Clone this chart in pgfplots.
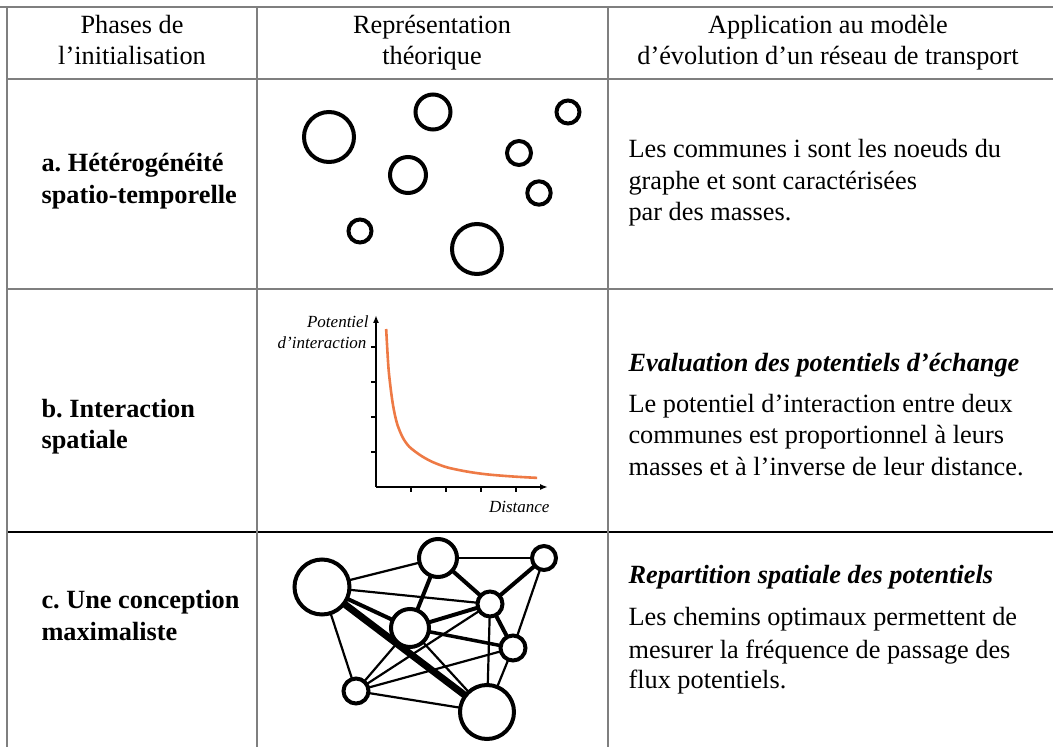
\documentclass[border=0pt]{standalone}
\usepackage{fontspec}
\setmainfont{Liberation Serif}
\usepackage{pgfplots}
\pgfplotsset{compat=1.18}
\usetikzlibrary{arrows.meta}
\definecolor{rulegray}{HTML}{7F7F7F}
\definecolor{curveorange}{HTML}{EE7A45}
\frenchspacing

\newcommand{\txt}{\fontsize{26.3}{26.3}\selectfont}
\newcommand{\lbl}{\fontsize{17}{17}\selectfont\itshape}

\begin{document}
\begin{tikzpicture}
\useasboundingbox (0pt,0pt) rectangle (1053pt,747pt);
% canvas axis, pixel coordinates of the reference (y downwards)
\begin{axis}[at={(0pt,0pt)}, anchor=south west, width=1053pt, height=747pt,
    scale only axis, xmin=0, xmax=1053, ymin=0, ymax=747, y dir=reverse,
    hide axis, clip=true, every node/.append style={inner sep=0pt}]

% table rules
\draw[rulegray, line width=2pt] (0,7) -- (1053,7);
\draw[rulegray, line width=2pt] (7,79) -- (1053,79);
\draw[rulegray, line width=2pt] (7,289) -- (1053,289);
\draw[black, line width=1.5pt] (7,532) -- (1053,532);
\draw[rulegray, line width=2pt] (7,7) -- (7,747);
\draw[rulegray, line width=2pt] (257,7) -- (257,747);
\draw[rulegray, line width=2pt] (608,7) -- (608,747);

% header
\node[anchor=base, font=\txt] at (132,33) {Phases de};
\node[anchor=base, font=\txt] at (132,64) {l’initialisation};
\node[anchor=base, font=\txt] at (432,33) {Représentation};
\node[anchor=base, font=\txt] at (432,64) {théorique};
\node[anchor=base, font=\txt] at (828,33) {Application au modèle};
\node[anchor=base, font=\txt] at (828,64) {d’évolution d’un réseau de transport};

% first column
\node[anchor=base west, font=\txt\bfseries] at (38,171) {a. Hétérogénéité};
\node[anchor=base west, font=\txt\bfseries] at (38,203) {spatio-temporelle};
\node[anchor=base west, font=\txt\bfseries] at (38,417) {b. Interaction};
\node[anchor=base west, font=\txt\bfseries] at (38,448) {spatiale};
\node[anchor=base west, font=\txt\bfseries] at (38,608) {c. Une conception};
\node[anchor=base west, font=\txt\bfseries] at (38,640) {maximaliste};

% third column
\node[anchor=base west, font=\txt] at (625,157) {Les communes i sont les noeuds du};
\node[anchor=base west, font=\txt] at (625,189) {graphe et sont caractérisées};
\node[anchor=base west, font=\txt] at (625,220) {par des masses.};
\node[anchor=base west, font=\txt\bfseries\itshape] at (625,371) {Evaluation des potentiels d’échange};
\node[anchor=base west, font=\txt] at (625,412) {Le potentiel d’interaction entre deux};
\node[anchor=base west, font=\txt] at (625,443) {communes est proportionnel à leurs};
\node[anchor=base west, font=\txt] at (625,475) {masses et à l’inverse de leur distance.};
\node[anchor=base west, font=\txt\bfseries\itshape] at (625,583) {Repartition spatiale des potentiels};
\node[anchor=base west, font=\txt] at (625,625) {Les chemins optimaux permettent de};
\node[anchor=base west, font=\txt] at (625,658) {mesurer la fréquence de passage des};
\node[anchor=base west, font=\txt] at (625,688) {flux potentiels.};

% labels of the small curve
\node[anchor=base east, font=\lbl] at (372,327) {Potentiel};
\node[anchor=base east, font=\lbl] at (370,348) {d’interaction};
\node[anchor=base east, font=\lbl] at (553,512) {Distance};

% row a: masses
\addplot[scatter, only marks, mark=*, mark options={line width=4pt},
    visualization depends on={\thisrow{r} \as \rad},
    scatter/use mapped color={draw=black, fill=white},
    scatter/@pre marker code/.append style={/tikz/mark size=\rad}]
    table {
x   y   r
329 137 25
433 112 17.5
568 112 11.5
408 175 18
519 153 12
539 193 11.7
360 231 11.5
477 249 25
};

% row c: network edges
\addplot[black, line width=2.2pt] coordinates {(322,587) (438,558)};
\addplot[black, line width=2.2pt] coordinates {(322,587) (490,604)};
\addplot[black, line width=2.2pt] coordinates {(322,587) (356,691)};
\addplot[black, line width=2.2pt] coordinates {(438,558) (544,558)};
\addplot[black, line width=2.2pt] coordinates {(544,558) (513,648)};
\addplot[black, line width=2.2pt] coordinates {(410,628) (487,712)};
\addplot[black, line width=2.2pt] coordinates {(410,628) (356,691)};
\addplot[black, line width=2.2pt] coordinates {(356,691) (490,604)};
\addplot[black, line width=2.2pt] coordinates {(356,691) (513,648)};
\addplot[black, line width=2.2pt] coordinates {(356,691) (487,712)};
\addplot[black, line width=2.2pt] coordinates {(490,604) (487,712)};
\addplot[black, line width=2.2pt] coordinates {(513,648) (487,712)};
\addplot[black, line width=4pt] coordinates {(322,587) (410,628)};
\addplot[black, line width=4pt] coordinates {(438,558) (410,628)};
\addplot[black, line width=4pt] coordinates {(438,558) (490,604)};
\addplot[black, line width=4pt] coordinates {(544,558) (490,604)};
\addplot[black, line width=4pt] coordinates {(410,628) (490,604)};
\addplot[black, line width=3.5pt] coordinates {(410,628) (513,648)};
\addplot[black, line width=4pt] coordinates {(490,604) (513,648)};
\addplot[black, line width=7pt] coordinates {(322,587) (487,712)};

% row c: network nodes
\addplot[scatter, only marks, mark=*, mark options={line width=4pt},
    visualization depends on={\thisrow{r} \as \rad},
    scatter/use mapped color={draw=black, fill=white},
    scatter/@pre marker code/.append style={/tikz/mark size=\rad}]
    table {
x   y   r
322 587 27.5
438 558 19
544 558 12
410 628 19
490 604 12.5
513 648 12.5
356 691 12.5
487 712 27
};
\end{axis}

% row b: potential against distance
\begin{axis}[at={(376pt,260pt)}, anchor=south west, width=172pt, height=172pt,
    scale only axis, xmin=0, xmax=4.91, ymin=0, ymax=4.91,
    axis lines=left,
    axis line style={line width=1.6pt, -{Latex[length=8pt,width=6pt]}},
    xtick={1,2,3,4}, ytick={1,2,3,4}, xticklabels={}, yticklabels={},
    tick align=outside, major tick length=5pt,
    tick style={line width=1.3pt, black}]
\addplot[curveorange, line width=2.6pt, smooth] coordinates {
(0.29,4.51) (0.33,3.80) (0.36,3.35) (0.40,2.97) (0.46,2.50) (0.53,2.10)
(0.62,1.75) (0.77,1.40) (0.95,1.15) (1.26,0.91) (1.60,0.72) (2.03,0.56)
(2.60,0.44) (3.17,0.36) (3.90,0.30) (4.60,0.26)
};
\end{axis}
\end{tikzpicture}
\end{document}
